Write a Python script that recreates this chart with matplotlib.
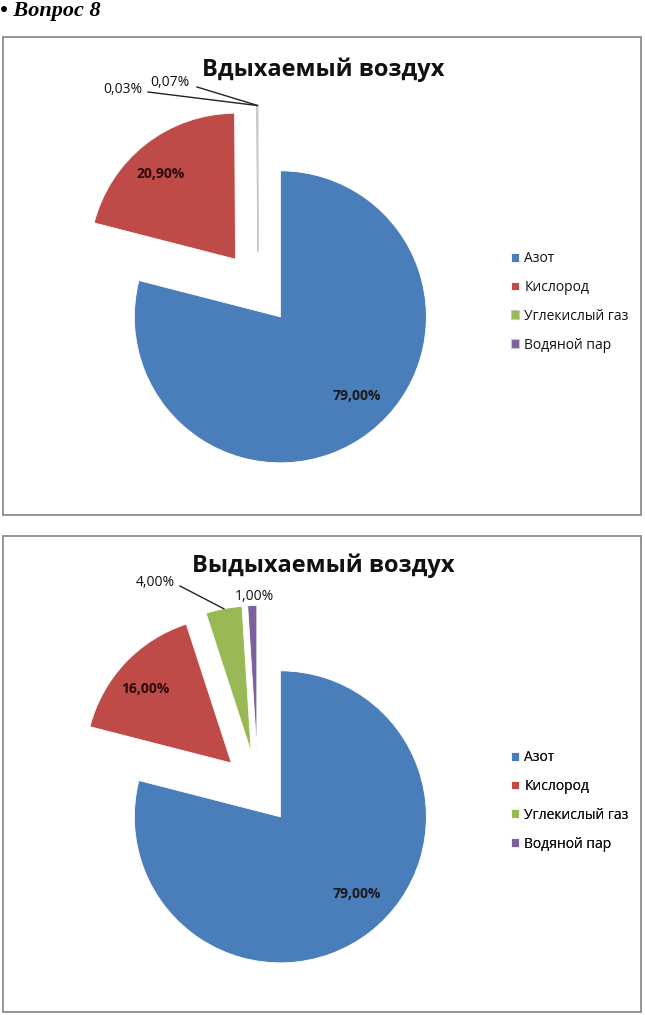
import matplotlib
matplotlib.use("Agg")
import matplotlib.pyplot as plt
import numpy as np

plt.rcParams['font.family'] = ['Open Sans', 'DejaVu Sans']

# ---- data ----
categories = ["Азот", "Кислород", "Углекислый газ", "Водяной пар"]
inhaled = [79.00, 20.90, 0.03, 0.07]
exhaled = [79.00, 16.00, 4.00, 1.00]
inhaled_labels = ["79,00%", "20,90%", "0,03%", "0,07%"]
exhaled_labels = ["79,00%", "16,00%", "4,00%", "1,00%"]
titles = ["Вдыхаемый воздух", "Выдыхаемый воздух"]
heading = "• Вопрос 8"

colors = ["#4A7EBB", "#BE4B48", "#98B954", "#7D60A0"]

W, H = 645, 1015
fig = plt.figure(figsize=(W / 100, H / 100), dpi=100)

# overlay axes in pixel coordinates for frames / texts
ov = fig.add_axes([0, 0, 1, 1])
ov.set_xlim(0, W)
ov.set_ylim(H, 0)
ov.axis("off")
ov.set_zorder(3)

ov.text(0, 11, heading, family="Liberation Serif", fontweight="bold",
        fontstyle="italic", fontsize=16, va="center", ha="left")

R = 146.0
panels = [
    dict(box=(3, 37, 641, 515), c=(258, 288), title_y=70, data=inhaled,
         labels=inhaled_labels, title=titles[0], leg_top=251),
    dict(box=(3, 536, 641, 1012), c=(258, 788), title_y=566, data=exhaled,
         labels=exhaled_labels, title=titles[1], leg_top=750),
]

def to_px(cx, cy, x, y):
    return cx + x * R, cy - y * R

for pi, p in enumerate(panels):
    x0, y0, x1, y1 = p["box"]
    ov.add_patch(plt.Rectangle((x0, y0), x1 - x0, y1 - y0, fill=False,
                               edgecolor="#8c8c8c", lw=1.3))
    cx, cy = p["c"]
    ax = fig.add_axes([0, 0, 1, 1])
    ax.patch.set_alpha(0)
    wedges, _ = ax.pie(p["data"], colors=colors, startangle=90,
                       counterclock=False, explode=[0.25] * 4, radius=1.0,
                       wedgeprops=dict(edgecolor="white", linewidth=0.6))
    if pi == 0:
        for w in wedges[2:]:
            w.set_edgecolor("#c8c8c8")
            w.set_linewidth(0.8)
    ax.set_aspect("auto")
    ax.set_xlim((0 - cx) / R, (W - cx) / R)
    ax.set_ylim((cy - H) / R, (cy - 0) / R)
    ax.axis("off")

    ov.text((x0 + x1) / 2 + 1, p["title_y"], p["title"], fontsize=17,
            fontweight="bold", ha="center", va="center", color="#111111")

    def tip(w):
        th = np.deg2rad((w.theta1 + w.theta2) / 2)
        return to_px(cx, cy, w.center[0] + w.r * np.cos(th),
                     w.center[1] + w.r * np.sin(th))

    labs = p["labels"]
    if pi == 0:
        ov.text(357, 396, labs[0], fontsize=10, fontweight="bold", ha="center", va="center", color="#1a1a1a")
        ov.text(161, 174, labs[1], fontsize=10, fontweight="bold", ha="center", va="center", color="#2a0a0a")
        ov.text(123, 89, labs[2], fontsize=10, ha="center", va="center", color="#111111")
        ov.text(170, 82, labs[3], fontsize=10, ha="center", va="center", color="#111111")
        tx, ty = tip(wedges[2])
        ov.plot([148, tx], [92, ty], color="#222222", lw=1)
        tx, ty = tip(wedges[3])
        ov.plot([197, tx], [87, ty], color="#222222", lw=1)
    else:
        ov.text(357, 894, labs[0], fontsize=10, fontweight="bold", ha="center", va="center", color="#1a1a1a")
        ov.text(145, 689, labs[1], fontsize=10, fontweight="bold", ha="center", va="center", color="#2a0a0a")
        ov.text(155, 582, labs[2], fontsize=10, ha="center", va="center", color="#111111")
        ov.text(254, 596, labs[3], fontsize=10, ha="center", va="center", color="#111111")
        tx, ty = tip(wedges[2])
        ov.plot([180, tx], [586, ty], color="#222222", lw=1)

    leg = ov.legend(wedges, categories, loc="upper left",
                    bbox_to_anchor=(511 / W, 1 - p["leg_top"] / H),
                    bbox_transform=fig.transFigure, frameon=False,
                    fontsize=10, labelspacing=1.0, handlelength=0.6,
                    handleheight=0.6, handletextpad=0.35, borderaxespad=0,
                    borderpad=0)
    for t in leg.get_texts():
        t.set_color("#111111")
    ov.add_artist(leg)

fig.savefig("out.png", dpi=100)
